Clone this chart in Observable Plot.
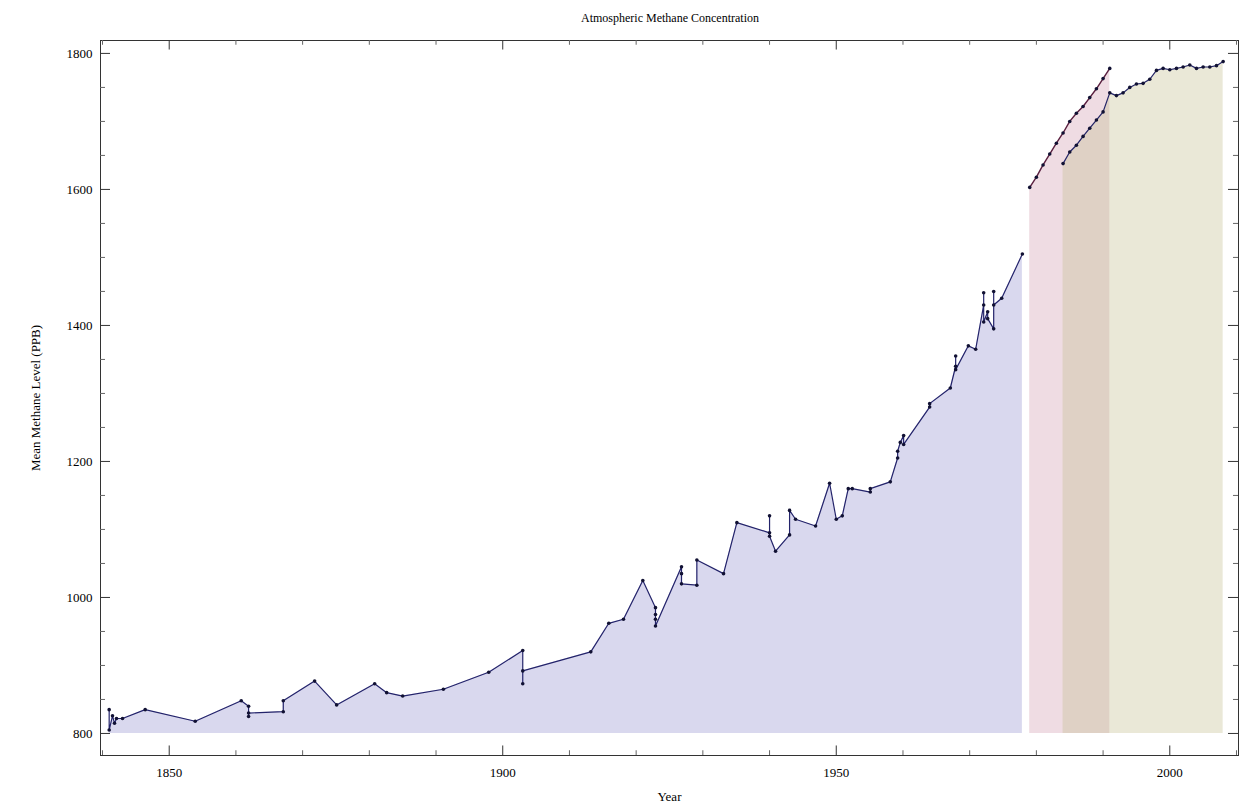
<!DOCTYPE html>
<html><head><meta charset="utf-8">
<script src="https://cdn.jsdelivr.net/npm/d3@7"></script>
<script src="https://cdn.jsdelivr.net/npm/@observablehq/plot@0.6"></script>
<style>
body{margin:0;background:#fff;font-family:"Liberation Serif",serif;}
#title{height:28px;line-height:36px;text-align:center;font-size:12px;width:1240px;padding-left:100px;box-sizing:border-box}
</style></head><body>
<div id="title">Atmospheric Methane Concentration</div>
<div id="chart"></div>
<script>
const iceYears = [1841.0,1841.0,1841.5,1841.8,1842.1,1843.0,1846.4,1853.9,1860.8,1861.9,1861.9,1861.9,1867.1,1867.1,1871.8,1875.1,1880.8,1882.6,1885.0,1891.1,1897.9,1903.0,1903.0,1903.0,1913.2,1915.9,1918.1,1921.0,1922.9,1922.9,1922.9,1922.9,1926.8,1926.8,1926.8,1929.1,1929.1,1933.1,1935.1,1940.0,1940.0,1940.0,1940.9,1943.0,1943.0,1943.9,1946.9,1949.0,1950.0,1950.9,1951.8,1952.4,1955.1,1955.1,1958.1,1959.2,1959.2,1959.6,1960.1,1960.1,1964.0,1964.0,1967.1,1967.9,1967.9,1967.9,1969.8,1970.9,1972.1,1972.1,1972.1,1972.7,1972.7,1973.6,1973.6,1973.6,1974.8,1977.9];
const iceValues = [835,805,826,815,822,822,835,818,848,840,825,830,832,848,877,842,873,860,855,865,890,922,873,892,920,962,968,1025,985,975,968,958,1045,1035,1020,1018,1055,1035,1110,1095,1120,1090,1068,1092,1128,1115,1105,1168,1115,1120,1160,1160,1155,1160,1170,1205,1215,1228,1238,1225,1280,1285,1308,1340,1355,1335,1370,1365,1430,1448,1405,1420,1410,1395,1450,1430,1440,1505];
const s2Years = [1979,1980,1981,1982,1983,1984,1985,1986,1987,1988,1989,1990,1991];
const s2Values = [1603,1618,1636,1652,1668,1683,1700,1712,1722,1735,1748,1763,1778];
const s3Years = [1984,1985,1986,1987,1988,1989,1990,1991,1992,1993,1994,1995,1996,1997,1998,1999,2000,2001,2002,2003,2004,2005,2006,2007,2008];
const s3Values = [1638,1655,1665,1678,1690,1702,1714,1742,1738,1742,1750,1755,1756,1762,1775,1778,1776,1778,1780,1783,1778,1780,1780,1782,1788];
const xMajor = [1850,1900,1950,2000];
const yMajor = [800,1000,1200,1400,1600,1800];

const ice = iceYears.map((x,i)=>({x,y:iceValues[i]}));
const s2 = s2Years.map((x,i)=>({x,y:s2Values[i]}));
const s3 = s3Years.map((x,i)=>({x,y:s3Values[i]}));
const xMinor = d3.range(1840,2011,10).filter(v=>!xMajor.includes(v));
const yMinor = d3.range(800,1820,50).filter(v=>!yMajor.includes(v));
const xD=[1839.7,2010.3], yD=[767.6,1819];

const chart = Plot.plot({
  width:1240, height:781,
  marginTop:12, marginBottom:54, marginLeft:100, marginRight:2,
  style:{fontFamily:"Liberation Serif",fontSize:"13px",color:"#000",background:"#fff"},
  x:{domain:xD, ticks:xMajor, tickFormat:d=>String(d), tickSize:0, tickPadding:12, label:"Year", labelAnchor:"center", labelOffset:45, labelArrow:"none"},
  y:{domain:yD, ticks:yMajor, tickFormat:d=>String(d), tickSize:0, tickPadding:8, label:"Mean Methane Level (PPB)", labelAnchor:"center", labelOffset:70, labelArrow:"none"},
  marks:[
    Plot.areaY(ice,{x:"x",y1:800,y2:"y",fill:"#d9d8ee"}),
    Plot.areaY(s2,{x:"x",y1:800,y2:"y",fill:"#c98aa3",fillOpacity:0.3}),
    Plot.areaY(s3,{x:"x",y1:800,y2:"y",fill:"#c4bd8c",fillOpacity:0.35}),
    Plot.line(ice,{x:"x",y:"y",stroke:"#23236a",strokeWidth:1.2}),
    Plot.dot(ice,{x:"x",y:"y",r:1.8,fill:"#111133"}),
    Plot.line(s2,{x:"x",y:"y",stroke:"#5a2040",strokeWidth:1.4}),
    Plot.dot(s2,{x:"x",y:"y",r:1.8,fill:"#111133"}),
    Plot.line(s3,{x:"x",y:"y",stroke:"#23236a",strokeWidth:1.2}),
    Plot.dot(s3,{x:"x",y:"y",r:1.8,fill:"#111133"}),
    Plot.frame({stroke:"#333"}),
    Plot.ruleX(xMajor,{x:d=>d,y1:yD[0],y2:yD[0]+14,stroke:"#333"}),
    Plot.ruleX(xMajor,{x:d=>d,y1:yD[1]-14,y2:yD[1],stroke:"#333"}),
    Plot.ruleX(xMinor,{x:d=>d,y1:yD[0],y2:yD[0]+7,stroke:"#666"}),
    Plot.ruleX(xMinor,{x:d=>d,y1:yD[1]-7,y2:yD[1],stroke:"#666"}),
    Plot.ruleY(yMajor,{y:d=>d,x1:xD[0],x2:xD[0]+1.5,stroke:"#333"}),
    Plot.ruleY(yMajor,{y:d=>d,x1:xD[1]-1.5,x2:xD[1],stroke:"#333"}),
    Plot.ruleY(yMinor,{y:d=>d,x1:xD[0],x2:xD[0]+0.75,stroke:"#666"}),
    Plot.ruleY(yMinor,{y:d=>d,x1:xD[1]-0.75,x2:xD[1],stroke:"#666"})
  ]
});
document.getElementById("chart").appendChild(chart);
</script></body></html>
